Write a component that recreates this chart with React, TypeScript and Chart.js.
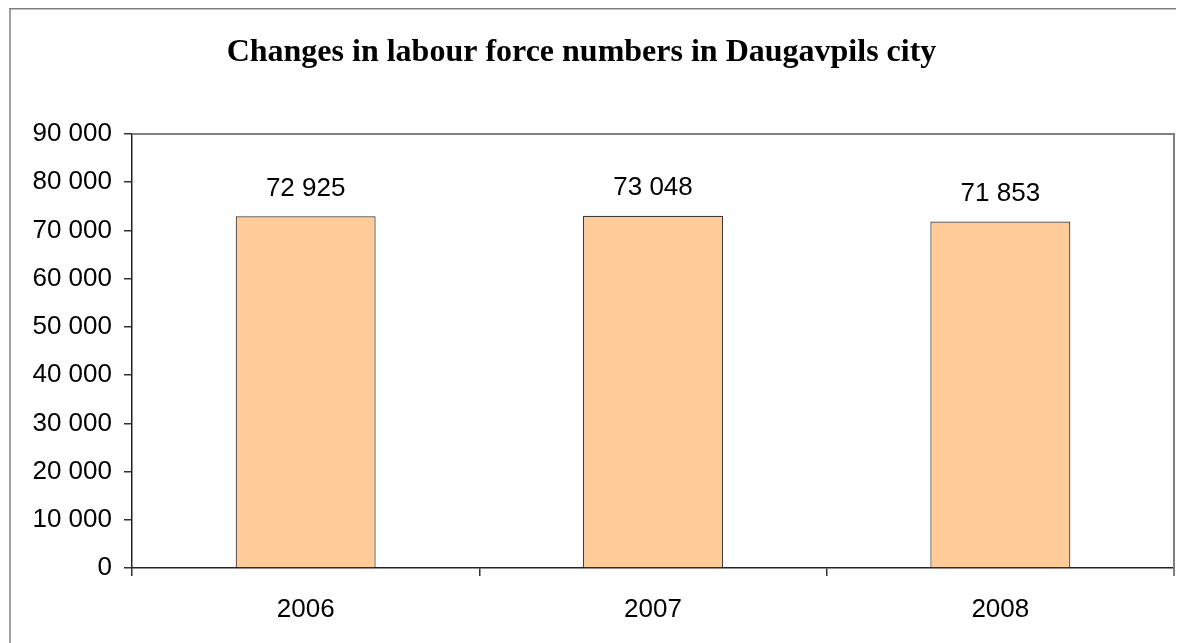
import React, { useEffect, useRef } from "react";
import { Chart, registerables } from "chart.js";

Chart.register(...registerables);

const TITLE = "Changes in labour force numbers in Daugavpils city";
const categories = ["2006", "2007", "2008"];
const labourForce = [72925, 73048, 71853];
const yMin = 0;
const yMax = 90000;
const yStep = 10000;

const fmt = (v: number) => String(Math.round(v)).replace(/\B(?=(\d{3})+(?!\d))/g, " ");

const decorPlugin = {
  id: "decor",
  afterDraw(chart: any) {
    const { ctx, chartArea } = chart;
    ctx.save();
    // outer frame (left and top edges visible)
    ctx.fillStyle = "#808080";
    ctx.fillRect(1.25, 0, chart.width, 1.5);
    ctx.fillRect(1.25, 0, 1.5, chart.height);
    // plot area top and right border
    ctx.strokeStyle = "#808080";
    ctx.lineWidth = 2;
    ctx.beginPath();
    ctx.moveTo(chartArea.left, chartArea.top);
    ctx.lineTo(chartArea.right, chartArea.top);
    ctx.lineTo(chartArea.right, chartArea.bottom + 8);
    ctx.stroke();
    // title
    ctx.fillStyle = "#000";
    ctx.font = "bold 32px 'Liberation Serif', 'Times New Roman', serif";
    ctx.textAlign = "center";
    ctx.textBaseline = "alphabetic";
    ctx.fillText(TITLE, 573.5, 52.5);
    // data labels
    ctx.font = "26px 'Liberation Sans', Arial, sans-serif";
    ctx.textBaseline = "middle";
    const meta = chart.getDatasetMeta(0);
    meta.data.forEach((bar: any, i: number) => {
      ctx.fillText(fmt(labourForce[i]), bar.x, bar.y - 28);
    });
    ctx.restore();
  },
};

export default function App() {
  const ref = useRef<HTMLCanvasElement | null>(null);
  useEffect(() => {
    if (!ref.current) return;
    const chart = new Chart(ref.current, {
      type: "bar",
      data: {
        labels: categories,
        datasets: [
          {
            label: "Labour force",
            data: labourForce,
            backgroundColor: "#FFCC99",
            borderColor: "#3a3a3a",
            borderWidth: 1.2,
            categoryPercentage: 1,
            barPercentage: 0.403,
          },
        ],
      },
      options: {
        animation: false,
        responsive: false,
        layout: { padding: { top: 126, right: 10, left: 0, bottom: 0 } },
        plugins: {
          legend: { display: false },
          tooltip: { enabled: false },
          title: { display: false },
        },
        scales: {
          x: {
            offset: true,
            grid: {
              offset: true,
              drawOnChartArea: false,
              drawTicks: true,
              tickLength: 8,
              color: "#333333",
              lineWidth: 1.5,
            },
            border: { display: true, color: "#222222", width: 1.5 },
            ticks: {
              color: "#000",
              padding: 18,
              font: { family: "'Liberation Sans', Arial, sans-serif", size: 26 },
              maxRotation: 0,
            },
            afterFit: (s: any) => {
              s.height = 75;
            },
          },
          y: {
            min: yMin,
            max: yMax,
            grid: {
              drawOnChartArea: false,
              drawTicks: true,
              tickLength: 8,
              color: "#333333",
              lineWidth: 1.5,
            },
            border: { display: true, color: "#222222", width: 1.5 },
            ticks: {
              stepSize: yStep,
              color: "#000",
              padding: 12,
              font: { family: "'Liberation Sans', Arial, sans-serif", size: 26 },
              callback: (v: any) => fmt(Number(v)),
            },
            afterFit: (s: any) => {
              s.width = 124;
            },
          },
        },
      },
      plugins: [decorPlugin],
    });
    return () => chart.destroy();
  }, []);
  return (
    <div style={{ width: 1176, height: 635 }}>
      <canvas ref={ref} width={1176} height={635} style={{ display: "block" }} />
    </div>
  );
}
